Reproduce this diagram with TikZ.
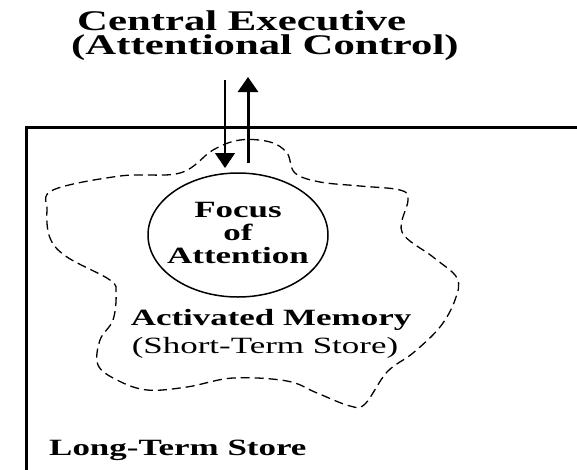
\documentclass[tikz,border=0pt]{standalone}
\usepackage{fontspec}
\setmainfont[FakeStretch=1.5]{Liberation Serif}
\usetikzlibrary{arrows.meta,shapes.geometric}
\tikzset{
  lbl/.style={inner sep=0pt, anchor=base},
  bigbold/.style={lbl, font=\fontsize{28.5}{24}\selectfont\bfseries},
  midbold/.style={lbl, font=\fontsize{23.3}{23.3}\selectfont\bfseries},
  midreg/.style={lbl, font=\fontsize{23.3}{23.3}\selectfont},
  head/.style={-{Triangle[width=20pt,length=15pt]}},
  blob/.style={draw, line width=1.3pt, dash pattern=on 9pt off 5pt},
}
\begin{document}
\begin{tikzpicture}[x=1pt,y=-1pt]
\useasboundingbox (0,0) rectangle (577,469);
\clip (0,0) rectangle (577,469);
\fill[white] (0,0) rectangle (577,469);
% long-term store box
\draw[line width=3pt] (26,500) -- (26,127) -- (600,127);
% activated memory blob
\draw[blob] plot[smooth cycle, tension=0.6] coordinates {
 (53,190) (120,176) (180,173) (213,150) (240,140) (270,142) (287,153) (295,173)
 (320,182) (360,186) (400,190) (408,200) (402,232) (433,257) (457,278) (455,300)
 (440,327) (413,353) (387,372) (365,404) (350,406) (317,393) (287,381) (233,378)
 (187,387) (147,390) (117,380) (98,365) (100,340) (113,320) (116,293) (110,280)
 (67,257) (50,238) (47,210)};
% focus of attention
\node[draw, ellipse, line width=1.5pt, minimum width=180pt, minimum height=124pt, inner sep=0pt] (foa) at (238,235) {};
\node[midbold] (f1) at (238,217) {Focus};
\node[midbold] (f2) at (238,240) {of};
\node[midbold] (f3) at (238,263) {Attention};
% title
\node[bigbold, align=left, anchor=north west] (ce) at (71,11) {\hspace*{6pt}Central Executive\\(Attentional Control)};
% activated memory
\node[midbold] (am) at (271,325) {Activated Memory};
\node[midreg] (sts) at (265,353) {(Short-Term Store)};
% long-term
\node[midbold, anchor=base west] (lts) at (49,455) {Long-Term Store};
% arrows
\coordinate (dS) at (225,80);
\coordinate (dE) at (225,168);
\coordinate (uS) at (248,163);
\coordinate (uE) at (248,77);
\draw[head, line width=1.3pt] (dS) -- (dE);
\draw[head, line width=3pt] (uS) -- (uE);
\end{tikzpicture}
\end{document}
